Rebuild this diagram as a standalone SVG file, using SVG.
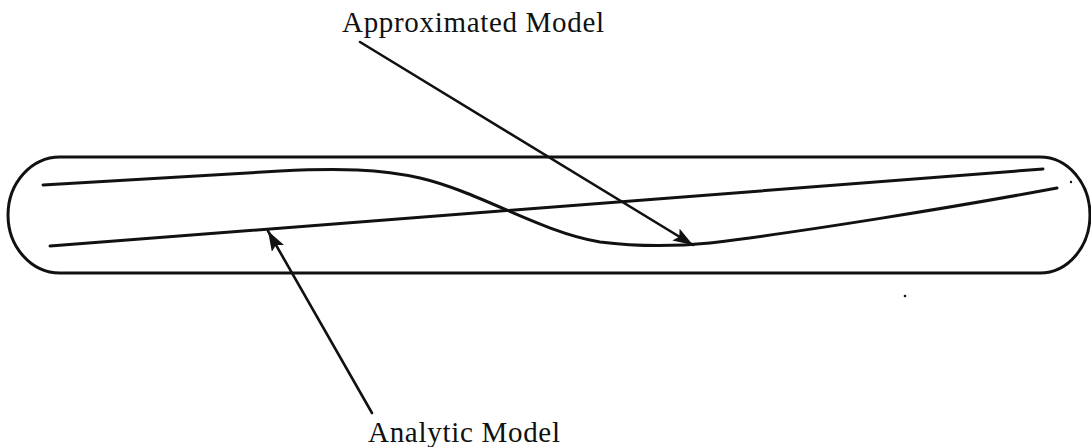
<svg xmlns="http://www.w3.org/2000/svg" width="1091" height="447" viewBox="0 0 1091 447">
<style>
.line{fill:none;stroke:#111;stroke-width:3;stroke-linecap:round;stroke-linejoin:round}
.arrow{fill:none;stroke:#111;stroke-width:2.6;stroke-linecap:round}
.label{font-family:"Liberation Serif","DejaVu Serif",serif;font-size:29px;fill:#111}
</style>
<defs>
<marker id="ah" markerUnits="userSpaceOnUse" markerWidth="22" markerHeight="16" refX="20" refY="7" orient="auto">
<path d="M0,0 L20,7 L0,14 L4,7 Z" fill="#111"/>
</marker>
</defs>
<rect width="1091" height="447" fill="#fff"/>
<g id="boundary">
<path class="line" d="M60,157 L1040,157 A50,58 0 0 1 1040,273 L60,273 A52,58 0 0 1 60,157 Z"/>
</g>
<g id="analytic-curve">
<path class="line" d="M50,246 L1043,169"/>
</g>
<g id="approximated-curve">
<path class="line" d="M43,185 L280,171 C340,168 380,169 420,178 C480,192 540,232 600,242 C640,247 680,246 710,243 C800,232 950,208 1057,188"/>
</g>
<g id="label-approximated">
<text class="label" x="342" y="32" textLength="262" lengthAdjust="spacing">Approximated Model</text>
</g>
<g id="label-analytic">
<text class="label" x="368" y="442" textLength="192" lengthAdjust="spacing">Analytic Model</text>
</g>
<g id="connectors">
<line class="arrow" x1="360" y1="42" x2="693" y2="245" marker-end="url(#ah)"/>
<line class="arrow" x1="372" y1="413" x2="268" y2="231" marker-end="url(#ah)"/>
</g>
<circle cx="1071" cy="182" r="1.2" fill="#111"/>
<circle cx="905" cy="296" r="1.3" fill="#111"/>
</svg>
